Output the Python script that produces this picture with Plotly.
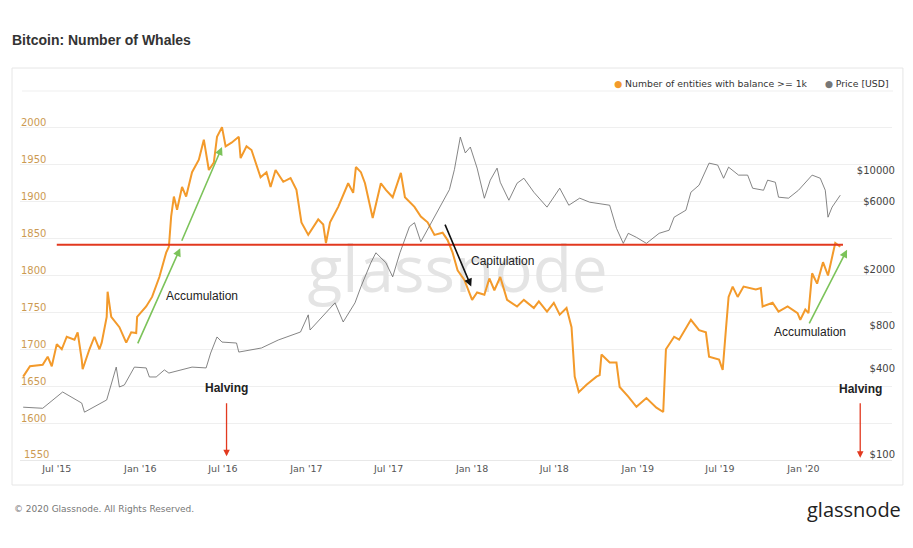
import plotly.graph_objects as go

# Number of entities holding >= 1k BTC
whale_dates = [
    "2015-04-18", "2015-05-03", "2015-05-31", "2015-06-11", "2015-06-20", "2015-07-01",
    "2015-07-12", "2015-07-23", "2015-08-09", "2015-08-16", "2015-08-25", "2015-08-27",
    "2015-09-11", "2015-09-22", "2015-10-03", "2015-10-08", "2015-10-19", "2015-10-21",
    "2015-10-29", "2015-11-16", "2015-12-01", "2015-12-12", "2015-12-23", "2015-12-25",
    "2016-01-14", "2016-01-27", "2016-02-12", "2016-02-27", "2016-03-04", "2016-03-09",
    "2016-03-15", "2016-03-22", "2016-04-02", "2016-04-11", "2016-04-24", "2016-05-09",
    "2016-05-20", "2016-05-31", "2016-06-11", "2016-06-18", "2016-06-29", "2016-07-07",
    "2016-07-20", "2016-08-05", "2016-08-09", "2016-08-22", "2016-09-02", "2016-09-22",
    "2016-10-05", "2016-10-14", "2016-10-25", "2016-11-11", "2016-11-27", "2016-12-10",
    "2016-12-21", "2017-01-05", "2017-01-27", "2017-02-07", "2017-02-13", "2017-02-22",
    "2017-03-12", "2017-04-03", "2017-04-14", "2017-04-20", "2017-05-01", "2017-05-10",
    "2017-05-27", "2017-06-14", "2017-06-25", "2017-07-10", "2017-07-28", "2017-08-06",
    "2017-08-27", "2017-09-10", "2017-09-25", "2017-10-10", "2017-10-28", "2017-11-08",
    "2017-11-19", "2017-11-30", "2017-12-15", "2018-01-01", "2018-01-12", "2018-01-28",
    "2018-02-08", "2018-02-19", "2018-03-04", "2018-03-19", "2018-04-10", "2018-04-25",
    "2018-05-17", "2018-05-28", "2018-06-15", "2018-06-30", "2018-07-13", "2018-07-28",
    "2018-08-08", "2018-08-15", "2018-08-24", "2018-09-10", "2018-10-02", "2018-10-09",
    "2018-10-13", "2018-10-31", "2018-11-15", "2018-11-22", "2018-12-11", "2018-12-29",
    "2019-01-20", "2019-02-11", "2019-02-26", "2019-03-04", "2019-03-22", "2019-04-02",
    "2019-04-28", "2019-05-16", "2019-05-31", "2019-06-07", "2019-06-29", "2019-07-07",
    "2019-07-14", "2019-07-20", "2019-07-29", "2019-08-09", "2019-08-22", "2019-09-18",
    "2019-09-29", "2019-10-03", "2019-10-25", "2019-11-07", "2019-11-27", "2019-12-19",
    "2019-12-25", "2020-01-05", "2020-01-12", "2020-01-20", "2020-01-31", "2020-02-13",
    "2020-02-24", "2020-03-04", "2020-03-11", "2020-03-22",
]
whales = [
    1663, 1677, 1679, 1690, 1677, 1707,
    1700, 1717, 1713, 1723, 1686, 1673,
    1700, 1717, 1700, 1709, 1744, 1778,
    1744, 1730, 1709, 1723, 1722, 1744,
    1758, 1771, 1798, 1831, 1839, 1880,
    1907, 1889, 1920, 1907, 1940, 1957,
    1984, 1943, 1953, 1988, 2001, 1975,
    1980, 1988, 1959, 1975, 1970, 1933,
    1940, 1920, 1943, 1927, 1932, 1916,
    1872, 1855, 1876, 1869, 1844, 1872,
    1893, 1925, 1912, 1947, 1940, 1925,
    1878, 1925, 1916, 1906, 1939, 1906,
    1893, 1880, 1872, 1855, 1858, 1848,
    1831, 1807, 1794, 1767, 1777, 1774,
    1796, 1780, 1798, 1767, 1758, 1767,
    1756, 1765, 1751, 1763, 1747, 1756,
    1730, 1663, 1642, 1652, 1663, 1665,
    1693, 1682, 1682, 1649, 1636, 1622,
    1634, 1621, 1615, 1700, 1717, 1713,
    1740, 1726, 1723, 1690, 1686, 1672,
    1726, 1771, 1785, 1771, 1785, 1781,
    1783, 1758, 1763, 1751, 1758, 1749,
    1740, 1754, 1749, 1803, 1789, 1818,
    1800, 1825, 1844, 1839,
]

# BTC price in USD
price_dates = [
    "2015-04-18", "2015-05-31", "2015-07-14", "2015-08-25", "2015-08-31", "2015-10-19",
    "2015-11-09", "2015-11-16", "2015-11-27", "2015-12-19", "2016-01-14", "2016-01-21",
    "2016-02-05", "2016-02-23", "2016-03-04", "2016-04-24", "2016-05-25", "2016-06-04",
    "2016-06-18", "2016-06-29", "2016-07-31", "2016-08-05", "2016-09-24", "2016-10-31",
    "2016-12-19", "2017-01-05", "2017-01-09", "2017-02-18", "2017-03-05", "2017-03-23",
    "2017-04-18", "2017-05-01", "2017-05-23", "2017-06-03", "2017-06-25", "2017-07-10",
    "2017-07-26", "2017-08-16", "2017-08-27", "2017-09-10", "2017-09-25", "2017-10-23",
    "2017-11-12", "2017-11-23", "2017-11-30", "2017-12-06", "2017-12-17", "2017-12-28",
    "2018-01-12", "2018-01-28", "2018-02-10", "2018-02-25", "2018-03-04", "2018-03-23",
    "2018-04-10", "2018-04-25", "2018-05-17", "2018-06-15", "2018-07-13", "2018-08-02",
    "2018-08-26", "2018-09-17", "2018-10-31", "2018-11-15", "2018-11-30", "2018-12-11",
    "2018-12-29", "2019-01-20", "2019-02-17", "2019-03-11", "2019-03-22", "2019-04-17",
    "2019-04-28", "2019-05-16", "2019-06-07", "2019-06-26", "2019-07-09", "2019-07-20",
    "2019-08-11", "2019-08-31", "2019-09-11", "2019-10-05", "2019-10-14", "2019-10-31",
    "2019-11-07", "2019-11-29", "2019-12-21", "2020-01-20", "2020-02-07", "2020-02-18",
    "2020-02-24", "2020-03-04", "2020-03-22",
]
price = [
    232, 228, 297, 248, 214, 261,
    445, 322, 333, 445, 439, 379,
    379, 425, 404, 445, 439, 559,
    726, 668, 658, 568, 607, 691,
    787, 1040, 813, 1127, 1264, 926,
    1264, 1638, 2425, 2850, 2425, 1928,
    2850, 4355, 4645, 3406, 4147, 6030,
    7950, 11010, 15260, 18660, 14420, 15870,
    11270, 6910, 9270, 11270, 8960, 6690,
    8820, 9560, 7620, 5980, 8130, 6170,
    6920, 6480, 6170, 4240, 3320, 3910,
    3660, 3320, 3910, 4110, 5080, 5690,
    7620, 8550, 12230, 11840, 9560, 11450,
    10060, 10060, 8130, 7870, 9270, 8960,
    7030, 6920, 7870, 10060, 9560, 7870,
    5080, 5980, 7260,
]

whale_ticks = [1550, 1600, 1650, 1700, 1750, 1800, 1850, 1900, 1950, 2000]
price_ticks = [100, 400, 800, 2000, 6000, 10000]
price_labels = ["$100", "$400", "$800", "$2000", "$6000", "$10000"]
month_ticks = ["2015-07-01", "2016-01-01", "2016-07-01", "2017-01-01", "2017-07-01", "2018-01-01",
               "2018-07-01", "2019-01-01", "2019-07-01", "2020-01-01", "2020-07-01"]
month_labels = ["Jul '15", "Jan '16", "Jul '16", "Jan '17", "Jul '17", "Jan '18",
                "Jul '18", "Jan '19", "Jul '19", "Jan '20", "Jul '20"]

ORANGE = "#F39A2B"
GREY = "#666666"
GREEN = "#7CC35A"
RED = "#E2391F"
LEFT_TICK = "#CC9A52"
RIGHT_TICK = "#444444"

# plot area in pixels: x 20..897, y 91..460
L, R, T, B = 20, 897, 91, 460


def px(x):
    return (x - L) / (R - L)


def py(y):
    return (B - y) / (B - T)


fig = go.Figure()

# watermark first so the lines sit over it
fig.add_trace(go.Scatter(x=["2017-11-30"], y=[1800], mode="text", text=["glassnode"],
                         textfont=dict(family="Open Sans", size=64, color="#e4e4e4"),
                         hoverinfo="skip", showlegend=False))
fig.add_trace(go.Scatter(x=whale_dates, y=whales, mode="lines", name="Number of entities with balance >= 1k",
                         line=dict(color=ORANGE, width=2), showlegend=False))
fig.add_trace(go.Scatter(x=price_dates, y=price, mode="lines", name="Price [USD]", yaxis="y2",
                         line=dict(color=GREY, width=0.8), showlegend=False))

fig.update_layout(
    width=913, height=548,
    margin=dict(l=L, r=913 - R, t=T, b=548 - B),
    paper_bgcolor="white", plot_bgcolor="white",
    title=dict(text="<b>Bitcoin: Number of Whales</b>", x=12 / 913, y=1 - 40 / 548,
               xref="container", yref="container", xanchor="left", yanchor="middle",
               font=dict(family="Liberation Sans", size=14, color="#333333")),
    xaxis=dict(type="date", range=["2015-04-11", "2020-07-14"], tickvals=month_ticks, ticktext=month_labels,
               showgrid=False, showline=True, linecolor="#e8e8e8", ticks="",
               tickfont=dict(family="DejaVu Sans", size=9.5, color="#555555")),
    yaxis=dict(range=[1550, 2050], tickvals=whale_ticks, showgrid=True, gridcolor="#efefef",
               zeroline=False, ticklabelposition="inside", ticklabelshift=-5, ticklabelstandoff=-2,
               ticks="", tickfont=dict(family="DejaVu Sans", size=10, color=LEFT_TICK)),
    yaxis2=dict(type="log", range=[1.993, 4.596], overlaying="y", side="right",
                tickvals=price_ticks, ticktext=price_labels, showgrid=False, zeroline=False,
                ticklabelposition="inside", ticklabelshift=-5, ticklabelstandoff=-6, ticks="",
                tickfont=dict(family="DejaVu Sans", size=10, color=RIGHT_TICK)),
    showlegend=False,
)

# the 1550 label sits on the range edge, where plotly hides inside labels
fig.add_annotation(x=px(22), y=1550, xref="paper", yref="y", yshift=6, xanchor="left", yanchor="middle",
                   showarrow=False, text="1550", font=dict(family="DejaVu Sans", size=10, color=LEFT_TICK))

# card frame and top rule
fig.add_shape(type="rect", xref="paper", yref="paper", x0=px(12), x1=px(908), y0=py(485), y1=py(68),
              line=dict(color="#e6e6e6", width=1), layer="below")
fig.add_shape(type="line", xref="paper", yref="paper", x0=px(22), x1=px(898), y0=1, y1=1,
              line=dict(color="#efefef", width=1), layer="below")

# red resistance line
fig.add_shape(type="line", xref="x", yref="y", x0="2015-07-01", x1="2020-03-28", y0=1841.5, y1=1841.5,
              line=dict(color=RED, width=2), layer="above")

ann_font = dict(family="Liberation Sans", size=12, color="#222222")


def arrow(head_x, head_y, tail_x, tail_y, color, width=1.6):
    fig.add_annotation(x=head_x, y=head_y, ax=tail_x, ay=tail_y, xref="x", yref="y",
                       axref="x", ayref="y", text="", showarrow=True, arrowhead=2,
                       arrowsize=1, arrowwidth=width, arrowcolor=color, standoff=0)


arrow("2016-03-29", 1837, "2015-12-25", 1706, GREEN)
arrow("2016-06-29", 1974, "2016-03-31", 1845, GREEN)
arrow("2017-12-30", 1785, "2017-11-01", 1871, "#111111")
arrow("2020-04-06", 1835, "2020-01-12", 1733, GREEN)
arrow("2016-07-09", 1555, "2016-07-09", 1629, RED, 1.3)
arrow("2020-05-05", 1553, "2020-05-05", 1629, RED, 1.3)

fig.add_annotation(x="2016-05-16", y=1772, xref="x", yref="y", text="Accumulation",
                   showarrow=False, font=ann_font)
fig.add_annotation(x="2018-03-08", y=1820, xref="x", yref="y", text="Capitulation",
                   showarrow=False, font=ann_font)
fig.add_annotation(x="2020-01-16", y=1724, xref="x", yref="y", text="Accumulation",
                   showarrow=False, font=ann_font)
fig.add_annotation(x="2016-07-09", y=1648, xref="x", yref="y", text="<b>Halving</b>",
                   showarrow=False, font=ann_font)
fig.add_annotation(x="2020-05-05", y=1646, xref="x", yref="y", text="<b>Halving</b>",
                   showarrow=False, font=ann_font)

# legend drawn as text so the dots sit tight against the labels
fig.add_annotation(x=px(896), y=py(83), xref="paper", yref="paper", xanchor="right", yanchor="middle",
                   showarrow=False,
                   text=f"<span style='color:{ORANGE}'>●</span> Number of entities with balance >= 1k"
                        f"      <span style='color:#777777'>●</span> Price [USD]",
                   font=dict(family="DejaVu Sans", size=9.3, color="#333333"))

# footer
fig.add_annotation(x=px(12), y=py(509), xref="paper", yref="paper", xanchor="left", yanchor="middle",
                   showarrow=False, text="© 2020 Glassnode. All Rights Reserved.",
                   font=dict(family="DejaVu Sans", size=9, color="#777777"))
fig.add_annotation(x=px(908), y=py(509), xref="paper", yref="paper", xanchor="right", yanchor="middle",
                   showarrow=False, text="glassnode",
                   font=dict(family="Open Sans", size=20, color="#222222"))

# drop the default page margin so the figure sits at the window's corner
fig.write_html("out.html", config={"displayModeBar": False},
               post_script="document.body.style.margin = '0';")
